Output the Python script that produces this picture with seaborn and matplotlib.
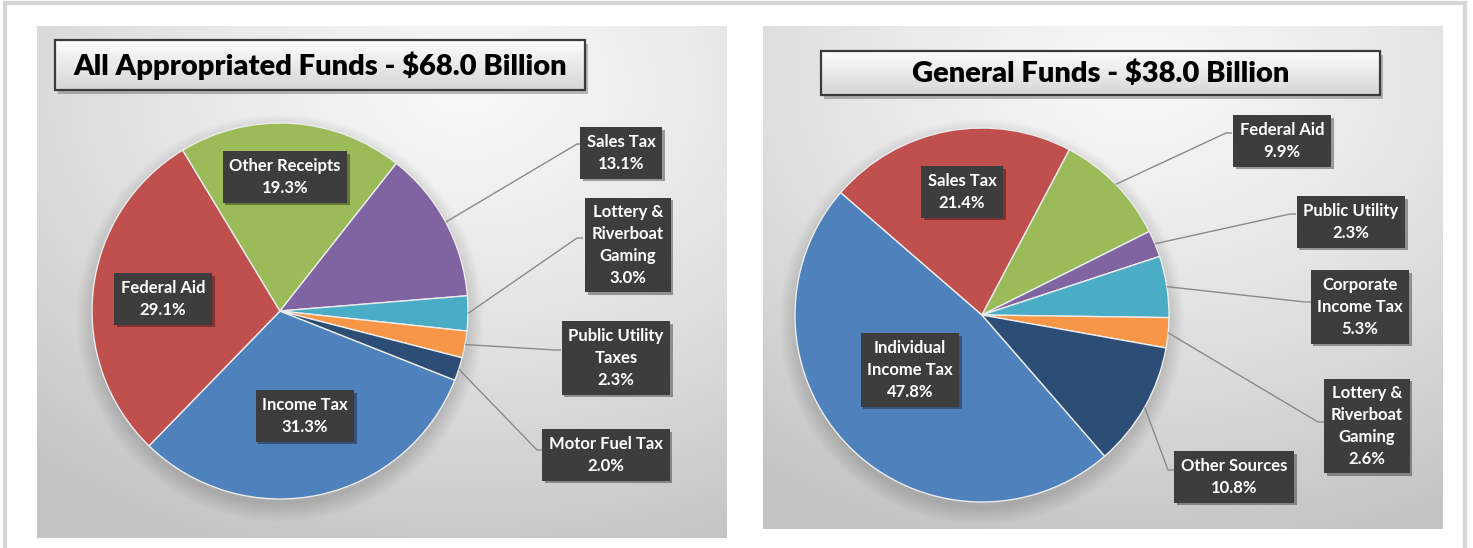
import numpy as np
import matplotlib
matplotlib.use("Agg")
import matplotlib.pyplot as plt
import matplotlib.patheffects as pe
import seaborn as sns
from matplotlib.patches import Rectangle

sns.set_theme(style="white")
plt.rcParams['font.family'] = ['Lato', 'DejaVu Sans']

# ---- data -------------------------------------------------------------
all_title = "All Appropriated Funds - $68.0 Billion"
all_labels = ["Income Tax", "Federal Aid", "Other Receipts", "Sales Tax",
              "Lottery &\nRiverboat\nGaming", "Public Utility\nTaxes", "Motor Fuel Tax"]
all_shares = [31.3, 29.1, 19.3, 13.1, 3.0, 2.3, 2.0]

gen_title = "General Funds - $38.0 Billion"
gen_labels = ["Individual\nIncome Tax", "Sales Tax", "Federal Aid", "Public Utility",
              "Corporate\nIncome Tax", "Lottery &\nRiverboat\nGaming", "Other Sources"]
gen_shares = [47.8, 21.4, 9.9, 2.3, 5.3, 2.6, 10.8]

slice_colors = ["#4F81BD", "#C0504D", "#9BBB59", "#8064A2", "#4BACC6", "#F79646", "#2C4D75"]

# ---- layout (pixel units, y measured from the top) ---------------------
W, H = 1473, 548

panels = [
    dict(title=all_title, labels=all_labels, shares=all_shares,
         frame=(37, 26, 727, 538), light=(0.62, 0.12),
         title_box=(55, 40, 585, 90),
         center=(280, 311), radius=188, first_angle=111.6,
         boxes=[(305, 416), (163, 299), (285, 177), (621, 153),
                (628, 245), (616, 358), (606, 455)],
         leaders={3: (583, 144), 4: (583, 238), 5: (561, 350), 6: (543, 450)}),
    dict(title=gen_title, labels=gen_labels, shares=gen_shares,
         frame=(763, 26, 1443, 529), light=(0.55, 0.10),
         title_box=(821, 51, 1380, 95),
         center=(982, 315), radius=187, first_angle=139.0,
         boxes=[(910, 370), (962, 192), (1282, 141), (1351, 222),
                (1360, 307), (1367, 426), (1234, 477)],
         leaders={2: (1232, 133), 3: (1296, 214), 4: (1311, 302),
                  5: (1324, 422), 6: (1174, 470)}),
]


def fy(y):
    return H - y


def panel_background(frame, light, center, radius):
    x0, y0, x1, y1 = frame
    w, h = x1 - x0, y1 - y0
    X, Y = np.meshgrid(np.arange(w) + 0.5, np.arange(h) + 0.5)
    d = np.sqrt(((X - light[0] * w) / w) ** 2 + ((Y - light[1] * h) / h) ** 2)
    v = 0.97 - 0.2 * np.clip(d / 0.95, 0, 1) ** 1.3
    # soft drop shadow under the pie
    dd = np.sqrt((X - (center[0] - x0)) ** 2 + (Y - (center[1] - y0 + 7)) ** 2) - radius
    shade = 0.16 * np.clip(1 - (dd + 2) / 18, 0, 1)
    v = v * (1 - shade)
    return np.dstack([v, v, v])


fig = plt.figure(figsize=(W / 100, H / 100), dpi=100)
ax = fig.add_axes([0, 0, 1, 1])

# slide border
ax.add_patch(Rectangle((5, fy(H + 20)), 1460, H + 20 - 3, fill=False,
                       ec="#d6d6d6", lw=3, zorder=0))

for p in panels:
    x0, y0, x1, y1 = p["frame"]
    ax.imshow(panel_background(p["frame"], p["light"], p["center"], p["radius"]),
              extent=(x0, x1, fy(y1), fy(y0)), origin="upper", zorder=1,
              interpolation="bilinear")

    # title box with vertical gradient
    tx0, ty0, tx1, ty1 = p["title_box"]
    ax.add_patch(Rectangle((tx0 + 3, fy(ty1 + 4)), tx1 - tx0, ty1 - ty0,
                           fc="black", ec="none", alpha=0.25, zorder=2))
    grad = np.linspace(0.99, 0.84, 60)[:, None] * np.ones((1, 4))
    grad = np.dstack([grad, grad, grad])
    ax.imshow(grad, extent=(tx0, tx1, fy(ty1), fy(ty0)), origin="upper",
              zorder=3, interpolation="bilinear")
    ax.add_patch(Rectangle((tx0, fy(ty1)), tx1 - tx0, ty1 - ty0, fill=False,
                           ec="#3a3a3a", lw=1.6, zorder=4))
    ax.text((tx0 + tx1) / 2, fy((ty0 + ty1) / 2 + 1), p["title"], ha="center",
            va="center", fontsize=21, fontweight="heavy", color="black", zorder=5)

    # pie
    cx, cy = p["center"]
    wedges, _ = ax.pie(p["shares"], colors=slice_colors, center=(cx, fy(cy)),
                       radius=p["radius"], startangle=90 - p["first_angle"],
                       counterclock=False,
                       wedgeprops=dict(edgecolor="#ececec", linewidth=1.0))
    for wdg in wedges:
        wdg.set_zorder(6)

    # data labels
    for i, (lab, val) in enumerate(zip(p["labels"], p["shares"])):
        bx, by = p["boxes"][i]
        t = ax.text(bx, fy(by), f"{lab}\n{val:.1f}%", ha="center", va="center",
                    multialignment="center", fontsize=12, fontweight="bold",
                    color="white", linespacing=1.45, zorder=9,
                    bbox=dict(boxstyle="square,pad=0.4", fc="#3d3d3d", ec="none"))
        t.get_bbox_patch().set_path_effects(
            [pe.withSimplePatchShadow(offset=(2, -2), shadow_rgbFace="black", alpha=0.35),
             pe.Normal()])
        if i in p["leaders"]:
            wdg = wedges[i]
            mid = np.deg2rad((wdg.theta1 + wdg.theta2) / 2)
            sx = wdg.center[0] + wdg.r * np.cos(mid)
            sy = wdg.center[1] + wdg.r * np.sin(mid)
            ex, ey = p["leaders"][i]
            ax.plot([sx, ex - 6, ex], [sy, fy(ey), fy(ey)], color="#8a8a8a",
                    lw=1.0, zorder=7, solid_capstyle="butt")

ax.set_xlim(0, W)
ax.set_ylim(0, H)
ax.set_aspect("auto")
ax.axis("off")
fig.savefig("out.png", dpi=100, facecolor="white")
